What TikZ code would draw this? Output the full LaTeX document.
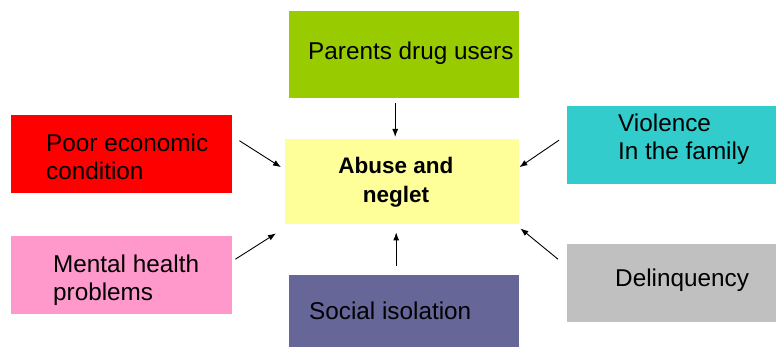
\documentclass[tikz,border=0pt]{standalone}
\usepackage{fontspec}
\setmainfont{Liberation Sans}
\usepackage{tikz}
\usetikzlibrary{positioning}
\usetikzlibrary{arrows.meta}
\definecolor{parcol}{HTML}{99CC00}
\definecolor{poorcol}{HTML}{FF0000}
\definecolor{mentcol}{HTML}{FF99CC}
\definecolor{abcol}{HTML}{FFFF99}
\definecolor{soccol}{HTML}{666699}
\definecolor{viocol}{HTML}{33CCCC}
\definecolor{delcol}{HTML}{C0C0C0}
\begin{document}
\begin{tikzpicture}[x=1pt,y=-1pt,
    box/.style={rectangle,inner sep=0pt,anchor=north west},
    txt/.style={inner sep=0pt,anchor=base west,align=left,
      font=\fontsize{24.3}{28}\selectfont},
    arr/.style={-{Latex[length=8pt,width=6pt]},line width=0.9pt}]
    \useasboundingbox (0,0) rectangle (776,347);
    \node[box,fill=parcol,minimum width=230pt,minimum height=87pt] (Par) at (289,11) {};
    \node[box,fill=poorcol,minimum width=221pt,minimum height=78pt] (Poor) at (11,115) {};
    \node[box,fill=mentcol,minimum width=221pt,minimum height=78pt] (Ment) at (11,236) {};
    \node[box,fill=abcol,minimum width=234pt,minimum height=85pt] (Ab) at (285,139) {};
    \node[box,fill=soccol,minimum width=230pt,minimum height=72pt] (Soc) at (289,275) {};
    \node[box,fill=viocol,minimum width=209pt,minimum height=78pt] (Vio) at (567,106) {};
    \node[box,fill=delcol,minimum width=209pt,minimum height=78pt] (Del) at (567,244) {};
    % multi-line text: base is the last line
    \node[txt] (ParT) at (308,60) {Parents drug users};
    \node[txt] (PoorT) at (46,180) {Poor economic\\condition};
    \node[txt] (MentT) at (53,300) {Mental health\\problems};
    \node[txt,anchor=base,align=center,font=\fontsize{22.5}{29}\selectfont\bfseries] (AbT) at (396,203) {Abuse and\\neglet};
    \node[txt] (SocT) at (309,319) {Social isolation};
    \node[txt] (VioT) at (618,160) {Violence\\In the family};
    \node[txt] (DelT) at (615,287) {Delinquency};
    \draw[arr] ([shift={(-9,5)}]Par.south) -- ([shift={(-7,-2)}]Ab.north);
    \draw[arr] ([shift={(7,-13.5)}]Poor.east) -- ([shift={(-4,-14.5)}]Ab.west);
    \draw[arr] ([shift={(3,-16)}]Ment.east) -- ([shift={(-9,9)}]Ab.south west);
    \draw[arr] ([shift={(-8,-9)}]Soc.north) -- ([shift={(-6,8)}]Ab.south);
    \draw[arr] ([shift={(-8,-5)}]Vio.west) -- ([shift={(0,-14.5)}]Ab.east);
    \draw[arr] ([shift={(-9,-24)}]Del.west) -- ([shift={(1,4)}]Ab.south east);
\end{tikzpicture}
\end{document}
